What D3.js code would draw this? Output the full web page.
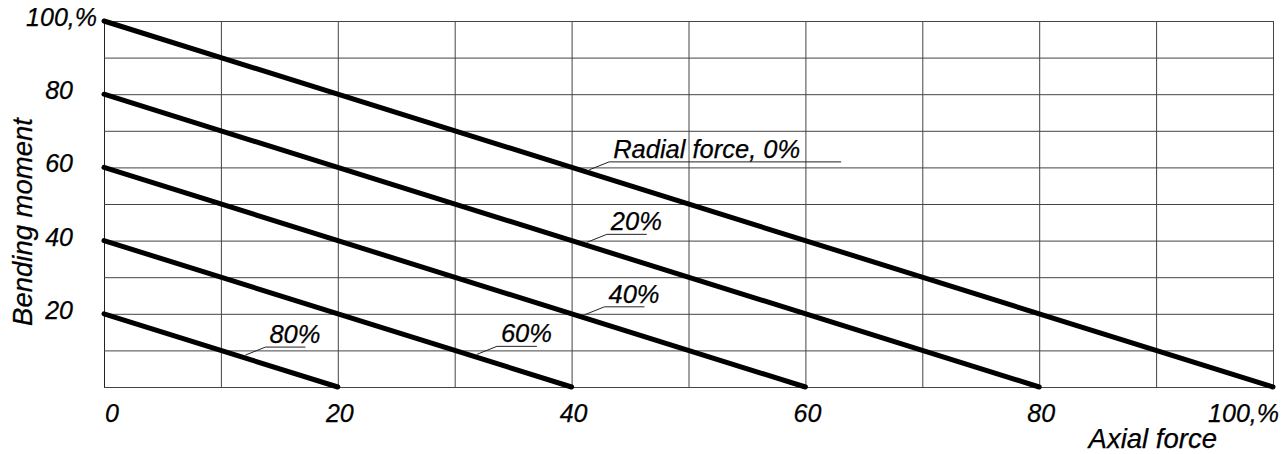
<!DOCTYPE html>
<html>
<head>
<meta charset="utf-8">
<script src="https://cdn.jsdelivr.net/npm/d3@7"></script>
<style>
  html, body { margin: 0; padding: 0; background: #fff; }
  svg { display: block; }
  text { font-family: "Liberation Sans", Arial, sans-serif; font-style: italic; fill: #000; stroke: #000; stroke-width: 0.25; }
</style>
</head>
<body>
<svg id="chart" width="1284" height="454"></svg>
<script>
// ---- data ----
const seriesNames = ["Radial force, 0%", "20%", "40%", "60%", "80%"];
const momentAtZeroAxial = [100, 80, 60, 40, 20];   // bending moment where axial force = 0
const axialAtZeroMoment = [100, 80, 60, 40, 20];   // axial force where bending moment = 0
const labelAxialAt = [41.5, 41.3, 41.1, 31.9, 12.1]; // axial value where each label's leader touches its line
const xTickValues = [0, 20, 40, 60, 80, 100];
const xTickLabels = ["0", "20", "40", "60", "80", "100,%"];
const yTickValues = [20, 40, 60, 80, 100];
const yTickLabels = ["20", "40", "60", "80", "100,%"];
const xAxisTitle = "Axial force";
const yAxisTitle = "Bending moment";

// ---- layout ----
const svg = d3.select("#chart");
const x = d3.scaleLinear().domain([0, 100]).range([104, 1273]);
const y = d3.scaleLinear().domain([0, 100]).range([387, 21]);

// grid
const gridColor = "#444";
svg.append("g")
  .attr("transform", `translate(0,${y(0)})`)
  .call(d3.axisBottom(x).tickValues(d3.range(0, 101, 10)).tickSize(-(y(0) - y(100))).tickFormat(""))
  .call(g => g.select(".domain").attr("stroke", gridColor))
  .call(g => g.selectAll(".tick line").attr("stroke", gridColor).attr("stroke-width", 1));
svg.append("g")
  .attr("transform", `translate(${x(0)},0)`)
  .call(d3.axisLeft(y).tickValues(d3.range(0, 101, 10)).tickSize(-(x(100) - x(0))).tickFormat(""))
  .call(g => g.select(".domain").attr("stroke", "#222"))
  .call(g => g.selectAll(".tick line").attr("stroke", gridColor).attr("stroke-width", 1));

// tick labels
const tickFont = 25;
svg.append("g").selectAll("text").data(xTickValues).join("text")
  .attr("x", (d, i) => i === 0 ? x(d) + 1 : (i === xTickValues.length - 1 ? x(d) + 6 : x(d) + 2))
  .attr("y", 422)
  .attr("text-anchor", (d, i) => i === 0 ? "start" : (i === xTickValues.length - 1 ? "end" : "middle"))
  .attr("font-size", tickFont)
  .text((d, i) => xTickLabels[i]);

svg.append("g").selectAll("text").data(yTickValues).join("text")
  .attr("x", (d, i) => i === yTickValues.length - 1 ? 97 : 73)
  .attr("y", d => y(d) + 5)
  .attr("text-anchor", "end")
  .attr("font-size", tickFont)
  .text((d, i) => yTickLabels[i]);

// axis titles
svg.append("text")
  .attr("x", 1217).attr("y", 448)
  .attr("text-anchor", "end")
  .attr("font-size", 27.5)
  .text(xAxisTitle);
svg.append("text")
  .attr("transform", `translate(32,${222}) rotate(-90)`)
  .attr("text-anchor", "middle")
  .attr("font-size", 27.5)
  .text(yAxisTitle);

// lines
svg.append("g").selectAll("line").data(momentAtZeroAxial).join("line")
  .attr("x1", x(0))
  .attr("y1", d => y(d))
  .attr("x2", (d, i) => x(axialAtZeroMoment[i]))
  .attr("y2", y(0))
  .attr("stroke", "#000")
  .attr("stroke-width", 5)
  .attr("stroke-linecap", "round");

// labels with leaders
const labelFont = 25.5;
const ann = svg.append("g");
seriesNames.forEach((name, i) => {
  const a = labelAxialAt[i];
  const m = momentAtZeroAxial[i] * (1 - a / axialAtZeroMoment[i]);
  const px = x(a), py = y(m) - 3;
  const ux = px + 20, uy = py - 8;
  const ulen = i === 0 ? 232 : 40;
  ann.append("path")
    .attr("d", `M${px},${py}L${ux},${uy}L${ux + ulen},${uy}`)
    .attr("fill", "none")
    .attr("stroke", "#222")
    .attr("stroke-width", 1);
  ann.append("text")
    .attr("x", ux + 4)
    .attr("y", uy - 4)
    .attr("font-size", labelFont)
    .text(name);
});
</script>
</body>
</html>
